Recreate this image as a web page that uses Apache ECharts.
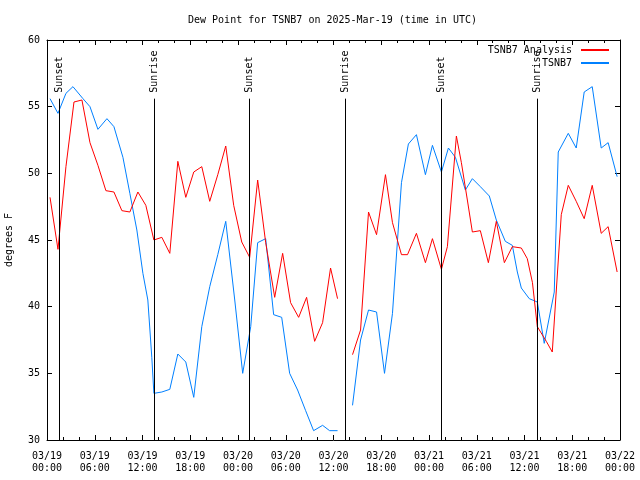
<!DOCTYPE html>
<html><head><meta charset="utf-8">
<script src="https://cdn.jsdelivr.net/npm/echarts@6/dist/echarts.min.js"></script>
<style>html,body{margin:0;padding:0;background:#fff}#c{width:640px;height:480px}</style>
</head><body><div id="c"></div>
<script>
const FONT = '"DejaVu Sans Mono", "Liberation Mono", monospace';
const xTickLabels = ['03/19\n00:00','03/19\n06:00','03/19\n12:00','03/19\n18:00','03/20\n00:00','03/20\n06:00','03/20\n12:00','03/20\n18:00','03/21\n00:00','03/21\n06:00','03/21\n12:00','03/21\n18:00','03/22\n00:00'];

// hours since 03/19 00:00 UTC
const analysisHours = [0.38,1.38,2.38,3.39,4.39,5.40,6.40,7.40,8.41,9.41,10.41,11.42,12.42,13.43,14.43,15.43,16.44,17.44,18.44,19.45,20.45,21.46,22.46,23.46,24.47,25.47,26.47,27.48,28.61,29.61,30.61,31.62,32.62,33.63,34.63,35.63,36.51,
  37.45,
  38.39,39.40,40.40,41.41,42.53,43.41,44.54,45.30,46.42,47.55,48.43,49.56,50.31,51.44,52.07,52.82,53.45,54.45,55.46,56.46,57.47,58.47,59.60,60.35,61.0,61.61,62.74,63.49,64.62,65.50,66.50,67.50,68.51,69.64,70.51,71.64];
const analysisValues = [48.2,44.3,50.5,55.35,55.5,52.3,50.6,48.7,48.6,47.2,47.1,48.6,47.6,45.0,45.2,44.0,50.9,48.2,50.1,50.5,47.9,49.9,52.05,47.6,44.85,43.7,49.5,44.8,40.7,44.0,40.3,39.2,40.7,37.4,38.8,42.9,40.6,
  null,
  36.4,38.25,47.1,45.4,49.9,46.3,43.9,43.9,45.5,43.3,45.1,42.8,44.5,52.8,50.8,48.0,45.6,45.7,43.3,46.4,43.3,44.5,44.4,43.6,41.8,38.5,37.4,36.6,46.9,49.1,47.9,46.6,49.1,45.5,46.0,42.6];

const obsHours = [0.38,1.38,2.38,3.26,4.52,5.40,6.40,7.53,8.41,9.54,10.41,11.29,12.05,12.67,13.17,13.43,14.43,15.43,16.44,17.44,18.44,19.45,20.45,21.46,22.46,23.59,24.59,25.60,26.47,27.48,28.48,29.49,30.49,31.49,32.50,33.50,34.63,35.51,36.51,
  37.45,
  38.39,39.40,40.40,41.41,42.41,43.41,44.54,45.41,46.42,47.55,48.43,49.56,50.44,51.32,52.57,53.45,54.45,55.58,56.46,57.59,58.47,59.10,59.60,60.60,61.61,62.48,63.74,64.24,65.50,66.50,67.50,68.51,69.64,70.51,71.64];
const obsValues = [55.6,54.5,56.0,56.5,55.6,55.0,53.3,54.1,53.5,51.2,48.5,45.75,42.5,40.5,36.2,33.5,33.6,33.8,36.45,35.85,33.2,38.5,41.5,43.9,46.4,40.5,35.0,38.5,44.8,45.1,39.4,39.2,35.0,33.75,32.2,30.7,31.1,30.7,30.7,
  null,
  32.6,37.5,39.75,39.6,35.0,39.5,49.3,52.2,52.9,49.9,52.1,50.1,51.9,51.2,48.75,49.6,49.0,48.3,46.5,44.9,44.6,42.6,41.4,40.6,40.35,37.25,41.1,51.6,53.0,51.9,56.1,56.5,51.9,52.3,49.75];

const sunHours = [1.45, 13.45, 25.42, 37.49, 49.55, 61.6];
const sunLabels = ['Sunset','Sunrise','Sunset','Sunrise','Sunset','Sunrise'];
const sunLineTop = 55.6;

const toPairs = (hs, vs) => hs.map((h, i) => [h, vs[i] === null ? '-' : vs[i]]);

const axisCommon = {
  axisLine: {show: true, onZero: false, lineStyle: {color: '#000', width: 1}},
  splitLine: {show: false}
};

const chart = echarts.init(document.getElementById('c'), null, {renderer: 'canvas'});
chart.setOption({
  animation: false,
  backgroundColor: '#fff',
  title: {
    text: 'Dew Point for TSNB7 on 2025-Mar-19 (time in UTC)',
    left: 188, top: 15, padding: 0,
    textStyle: {fontFamily: FONT, fontSize: 10, fontWeight: 'normal', color: '#000'}
  },
  legend: {
    orient: 'vertical', right: 30, top: 45, align: 'right',
    itemWidth: 28, itemHeight: 10, itemGap: 3, padding: 0,
    itemStyle: {opacity: 0, borderWidth: 0},
    textStyle: {fontFamily: FONT, fontSize: 10, color: '#000', padding: [0, 4, 0, 0]},
    data: ['TSNB7 Analysis', 'TSNB7']
  },
  grid: {left: 47, right: 20, top: 40, bottom: 40, outerBoundsMode: 'none', containLabel: false},
  xAxis: [
    Object.assign({}, axisCommon, {
      type: 'value', min: 0, max: 72, interval: 6, position: 'bottom',
      axisTick: {show: true, inside: true, length: 5, lineStyle: {color: '#000'}},
      minorTick: {show: true, splitNumber: 3, length: 3, lineStyle: {color: '#000'}},
      axisLabel: {
        formatter: v => xTickLabels[Math.round(v / 6)],
        fontFamily: FONT, fontSize: 10, color: '#000', lineHeight: 12, margin: 10,
        showMinLabel: true, showMaxLabel: true, hideOverlap: false
      }
    }),
    Object.assign({}, axisCommon, {
      type: 'value', min: 0, max: 72, interval: 6, position: 'top',
      axisTick: {show: true, inside: true, length: 5, lineStyle: {color: '#000'}},
      minorTick: {show: true, splitNumber: 3, length: 3, lineStyle: {color: '#000'}},
      axisLabel: {show: false}
    })
  ],
  yAxis: [
    Object.assign({}, axisCommon, {
      type: 'value', min: 30, max: 60, interval: 5, position: 'left',
      name: 'degrees F', nameLocation: 'middle', nameGap: 33, nameRotate: 90,
      nameTextStyle: {fontFamily: FONT, fontSize: 10, color: '#000'},
      axisTick: {show: true, inside: true, length: 5, lineStyle: {color: '#000'}},
      axisLabel: {fontFamily: FONT, fontSize: 10, color: '#000', margin: 7, showMinLabel: true, showMaxLabel: true}
    }),
    Object.assign({}, axisCommon, {
      type: 'value', min: 30, max: 60, interval: 5, position: 'right',
      axisTick: {show: true, inside: true, length: 5, lineStyle: {color: '#000'}},
      axisLabel: {show: false}
    })
  ],
  series: [
    {
      name: 'TSNB7 Analysis', type: 'line', symbol: 'none', showSymbol: false,
      connectNulls: false, color: '#ff0000',
      lineStyle: {color: '#ff0000', width: 1},
      data: toPairs(analysisHours, analysisValues), z: 3
    },
    {
      name: 'TSNB7', type: 'line', symbol: 'none', showSymbol: false,
      connectNulls: false, color: '#0080ff',
      lineStyle: {color: '#0080ff', width: 1},
      data: toPairs(obsHours, obsValues), z: 2
    },
    {
      type: 'custom', silent: true, z: 4,
      data: sunHours.map(h => [h, 30]),
      renderItem: (params, api) => {
        const h = api.value(0);
        const p0 = api.coord([h, 30]);
        const p1 = api.coord([h, sunLineTop]);
        const x = Math.round(p0[0]) + 0.5;
        return {
          type: 'group',
          children: [
            {type: 'line', shape: {x1: x, y1: p0[1], x2: x, y2: p1[1]}, style: {stroke: '#000', lineWidth: 1}},
            {type: 'text', x: x, y: p1[1] - 6, rotation: Math.PI / 2,
             style: {text: sunLabels[params.dataIndex], fill: '#000', font: '10px ' + FONT,
                     textAlign: 'left', textVerticalAlign: 'middle'}}
          ]
        };
      }
    }
  ]
});
</script>
</body></html>
